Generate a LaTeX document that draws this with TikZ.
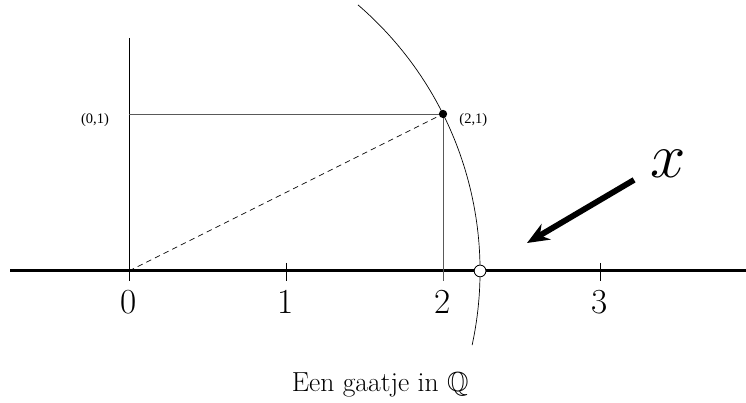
\documentclass[tikz,border=0pt]{standalone}
\usepackage{amsmath}
\usepackage{amssymb}
\usepackage{fontspec}
\newfontfamily\timesfont{Liberation Serif}
\usepackage{tikz}
\usetikzlibrary{arrows.meta,positioning,calc}

\begin{document}
\begin{tikzpicture}[x=4cm, y=4cm,
  axisline/.style={line width=2.2pt, black},
  thinline/.style={line width=0.5pt, black},
  gridline/.style={line width=0.6pt, black!65},
  ticklabel/.style={font=\fontsize{25.5}{30}\selectfont, inner sep=0pt},
  pointlabel/.style={font=\timesfont\fontsize{10.5}{12}\selectfont, inner sep=0pt},
  bigarr/.style={-{Stealth[length=16pt, width=13pt]}, line width=4.2pt}
]
  \useasboundingbox (-0.822,-0.841) rectangle (3.930,1.726);

  % punten
  \coordinate (O) at (0,0);
  \coordinate (p21) at (2,1);
  \coordinate (sqrt5) at (2.236,0);
  \coordinate (axl) at (-0.758,0);
  \coordinate (axr) at (3.93,0);
  \coordinate (ytop) at (0,1.484);
  \coordinate (y1) at (0,1);
  \coordinate (t0) at (0,-0.064);
  \coordinate (t1a) at (1,0.051);
  \coordinate (t1b) at (1,-0.064);
  \coordinate (t2) at (2,-0.064);
  \coordinate (t3a) at (3,0.051);
  \coordinate (t3b) at (3,-0.064);
  \coordinate (arcstart) at (49.3:2.236);
  \coordinate (arrstart) at (3.217,0.58);
  \coordinate (arrend) at (2.535,0.178);

  % lijnen
  \draw[axisline] (axl) -- (axr);
  \draw[thinline] (ytop) -- (t0);
  \draw[gridline] (y1) -- (p21);
  \draw[gridline] (p21) -- (t2);
  \draw[thinline] (t1a) -- (t1b);
  \draw[thinline] (t3a) -- (t3b);
  \draw[thinline, dash pattern=on 4pt off 3pt] (O) -- (p21);
  \draw[thinline] (arcstart) arc[start angle=49.3, end angle=-12.2, radius=2.236];
  \draw[bigarr] (arrstart) -- (arrend);

  \node[circle, fill=black, inner sep=0pt, minimum size=6pt] (P) at (p21) {};
  \node[circle, draw, fill=white, line width=0.6pt, inner sep=0pt, minimum size=8.5pt] (hole) at (sqrt5) {};

  % labels
  \node[ticklabel] (n0) at (0,-0.2) {0};
  \node[ticklabel] (n1) at (1,-0.2) {1};
  \node[ticklabel] (n2) at (2,-0.2) {2};
  \node[ticklabel] (n3) at (3,-0.2) {3};
  \node[pointlabel] (l01) at (-0.217,0.96) {(0,1)};
  \node[pointlabel, right=0.3cm of P, yshift=-0.15cm] (l21) {(2,1)};
  \node[font=\Huge, scale=1.85, inner sep=0pt] (xlab) at (3.433,0.68) {$x$};
  \node[font=\fontsize{20}{24}\selectfont, inner sep=0pt] (gap) at (1.6,-0.726) {Een gaatje in $\mathbb{Q}$};
\end{tikzpicture}
\end{document}
